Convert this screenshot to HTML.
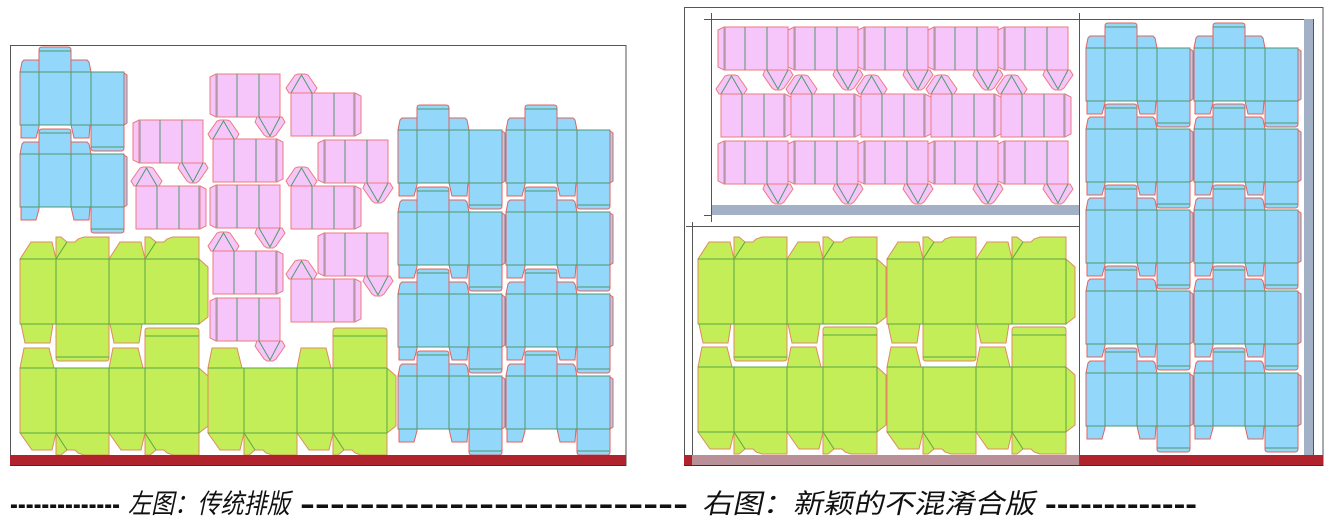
<!DOCTYPE html>
<html><head><meta charset="utf-8"><style>
html,body{margin:0;padding:0;background:#fff;}
svg{display:block;}
.bf{fill:#93d7fb;stroke:#e0635f;stroke-width:1;}
.pf{fill:#f6c6fa;stroke:#ec7a80;stroke-width:1;}
.gf{fill:#c3ee58;stroke:#e08a60;stroke-width:1;}
.fl{stroke:#4f9a6e;stroke-width:1;fill:none;}
.flg{stroke:#a3a3b3;stroke-width:1.5;fill:none;}
.gl{stroke:#5aa646;stroke-width:1;fill:none;}
.fr{fill:none;stroke:#555;stroke-width:1;}
.cap{font-family:"Liberation Sans","Noto Sans CJK SC",sans-serif;font-size:27px;fill:#111;}
.dash{font-family:"Liberation Sans",sans-serif;font-size:30px;font-weight:bold;fill:#111;}
</style></head><body>
<svg width="1336" height="522" viewBox="0 0 1336 522" xmlns="http://www.w3.org/2000/svg">
<defs>
<g id="B">
  <path class="bf" d="M19,25V3Q19,0 22,0H48Q51,0 51,3V25Z"/>
  <polygon class="bf" points="0,25 2,15 4,13 19,13 19,25"/>
  <polygon class="bf" points="51,25 51,13 67,13 69,15 71,25"/>
  <polygon class="bf" points="1,78 1,91 16,91 19,80 19,78"/>
  <polygon class="bf" points="51,78 54,91 69,91 70,78"/>
  <path class="bf" d="M71,78V101Q71,104 74,104H101Q104,104 104,101V78Z"/>
  <polygon class="bf" points="104,26 107,28 107,76 104,78"/>
  <rect class="bf" x="0" y="25" width="104" height="53"/>
  <path class="fl" d="M19,25V78M51,25V78M71,25V78M0,25H104M0,78H104M19,4H51M71,100H104"/>
</g>
<g id="PL">
  <polygon class="pf" points="47,43 72,43 75,48 66,61 63,63 57,63 54,61 45,48"/>
  <polygon class="pf" points="0,3 6,0 6,43 0,40"/>
  <rect class="pf" x="6" y="0" width="64" height="43"/>
  <path class="flg" d="M7,0V43"/>
  <path class="fl" d="M27,0V43M49,0V43M49,43L60,62L70,43"/>
</g>
<g id="PR">
  <polygon class="pf" points="-2,19 23,19 26,14 17,1 14,0 7,0 4,1 -5,14"/>
  <polygon class="pf" points="64,19 70,22 70,59 64,62"/>
  <rect class="pf" x="0" y="19" width="64" height="43"/>
  <path class="flg" d="M63,19V62"/>
  <path class="fl" d="M21,19V62M43,19V62M0,19L10.5,1L21,19"/>
</g>
<g id="GA">
  <polygon class="gf" points="0,22 11,5 32,5 36,22"/>
  <polygon class="gf" points="89,22 100,5 121,5 125,22"/>
  <polygon class="gf" points="36,22 36,0 41,0 47,5 55,5 58,2 64,0 89,0 89,22"/>
  <polygon class="gf" points="125,22 125,0 130,0 136,5 144,5 147,2 153,0 179,0 179,22"/>
  <polygon class="gf" points="1,87 5,106 30,106 33,87"/>
  <polygon class="gf" points="90,87 94,106 119,106 122,87"/>
  <path class="gf" d="M36,87V121Q36,124 39,124H86Q89,124 89,121V87Z"/>
  <polygon class="gf" points="179,22 188,30 188,80 179,87"/>
  <rect class="gf" x="0" y="22" width="179" height="65"/>
  <path class="gl" d="M36,22V87M89,22V87M125,22V87M179,22V87M0,22H179M0,87H179M36,22L47,5M125,22L136,5M36,120H89"/>
</g>
<g id="GB">
  <polygon class="gf" points="0,40 4,20 29,20 34,40"/>
  <polygon class="gf" points="89,40 93,20 118,20 123,40"/>
  <path class="gf" d="M125,40V3Q125,0 128,0H176Q179,0 179,3V40Z"/>
  <polygon class="gf" points="0,105 12,122 32,122 36,105"/>
  <polygon class="gf" points="89,105 101,122 121,122 125,105"/>
  <polygon class="gf" points="36,105 36,127 41,127 47,122 55,122 58,125 64,127 89,127 89,105"/>
  <polygon class="gf" points="125,105 125,127 130,127 136,122 144,122 147,125 153,127 179,127 179,105"/>
  <polygon class="gf" points="179,40 188,48 188,98 179,105"/>
  <rect class="gf" x="0" y="40" width="179" height="65"/>
  <path class="gl" d="M36,40V105M89,40V105M125,40V105M179,40V105M0,40H179M0,105H179M36,105L47,122M125,105L136,122M125,8H179"/>
</g>
</defs>

<!-- LEFT PANEL -->
<rect class="fr" x="10.5" y="45.5" width="615.5" height="420"/>
<use href="#B" x="20" y="47"/>
<use href="#B" x="20" y="129"/>
<use href="#B" x="398" y="105"/><use href="#B" x="506" y="105"/>
<use href="#B" x="398" y="187"/><use href="#B" x="506" y="187"/>
<use href="#B" x="398" y="269"/><use href="#B" x="506" y="269"/>
<use href="#B" x="398" y="351"/><use href="#B" x="506" y="351"/>
<use href="#PL" x="133" y="120"/>
<use href="#PR" x="136" y="167"/>
<use href="#PL" x="210" y="74"/>
<use href="#PR" x="213" y="120"/>
<use href="#PL" x="210" y="185"/>
<use href="#PR" x="213" y="232"/>
<use href="#PL" x="210" y="298"/>
<use href="#PR" x="291" y="74"/>
<use href="#PL" x="318" y="140"/>
<use href="#PR" x="291" y="167"/>
<use href="#PL" x="318" y="233"/>
<use href="#PR" x="291" y="260"/>
<use href="#GA" x="20" y="237"/>
<use href="#GB" x="20" y="328"/>
<use href="#GB" x="208" y="328"/>
<rect x="10" y="455" width="616" height="10" fill="#b0222c"/>
<line x1="10" y1="465.5" x2="626" y2="465.5" stroke="#333"/>

<!-- RIGHT PANEL -->
<rect class="fr" x="684.5" y="7.5" width="638.5" height="458"/>
<rect class="fr" x="711.5" y="19.5" width="368" height="195"/>
<rect x="712" y="205" width="367" height="10" fill="#a3b1c6"/>
<path class="fr" d="M704,19.5H711M711.5,13V19M704,215.5H711M711.5,215V222M1079.5,13V19M686,226.5H1080M692.5,222V465M1080,19.5H1313M1313.5,19V455M1079.5,19V465"/>
<rect x="1304" y="19" width="9" height="436" fill="#a3b1c6"/>
<g>
<use href="#PL" x="718" y="27"/><use href="#PL" x="788" y="27"/><use href="#PL" x="858" y="27"/><use href="#PL" x="928" y="27"/><use href="#PL" x="998" y="27"/>
<use href="#PR" x="721" y="75"/><use href="#PR" x="791" y="75"/><use href="#PR" x="861" y="75"/><use href="#PR" x="931" y="75"/><use href="#PR" x="1001" y="75"/>
<use href="#PL" x="718" y="141"/><use href="#PL" x="788" y="141"/><use href="#PL" x="858" y="141"/><use href="#PL" x="928" y="141"/><use href="#PL" x="998" y="141"/>
</g>
<use href="#GA" x="698" y="237"/><use href="#GA" x="887" y="237"/>
<use href="#GB" x="698" y="327"/><use href="#GB" x="887" y="327"/>
<use href="#B" x="1086" y="23"/><use href="#B" x="1194" y="23"/>
<use href="#B" x="1086" y="104"/><use href="#B" x="1194" y="104"/>
<use href="#B" x="1086" y="185"/><use href="#B" x="1194" y="185"/>
<use href="#B" x="1086" y="266"/><use href="#B" x="1194" y="266"/>
<use href="#B" x="1086" y="348"/><use href="#B" x="1194" y="348"/>
<rect x="684" y="455" width="8" height="10" fill="#b0222c"/>
<rect x="692" y="455" width="387" height="10" fill="#b98f98"/>
<rect x="1080" y="455" width="243" height="10" fill="#b0222c"/>
<line x1="684" y1="465.5" x2="1323" y2="465.5" stroke="#333"/>

<!-- CAPTION -->
<text class="dash" x="10" y="514" textLength="110" lengthAdjust="spacingAndGlyphs">--------------</text>
<text class="cap" x="128" y="513" textLength="162" lengthAdjust="spacingAndGlyphs" transform="skewX(-12) translate(109,0)">左图：传统排版</text>
<text class="dash" x="300" y="514" textLength="388" lengthAdjust="spacingAndGlyphs">--------------------------</text>
<text class="cap" x="702" y="513" textLength="333" lengthAdjust="spacingAndGlyphs" transform="skewX(-12) translate(109,0)">右图：新颖的不混淆合版</text>
<text class="dash" x="1045" y="514" textLength="152" lengthAdjust="spacingAndGlyphs">-------------</text>
</svg>
</body></html>
